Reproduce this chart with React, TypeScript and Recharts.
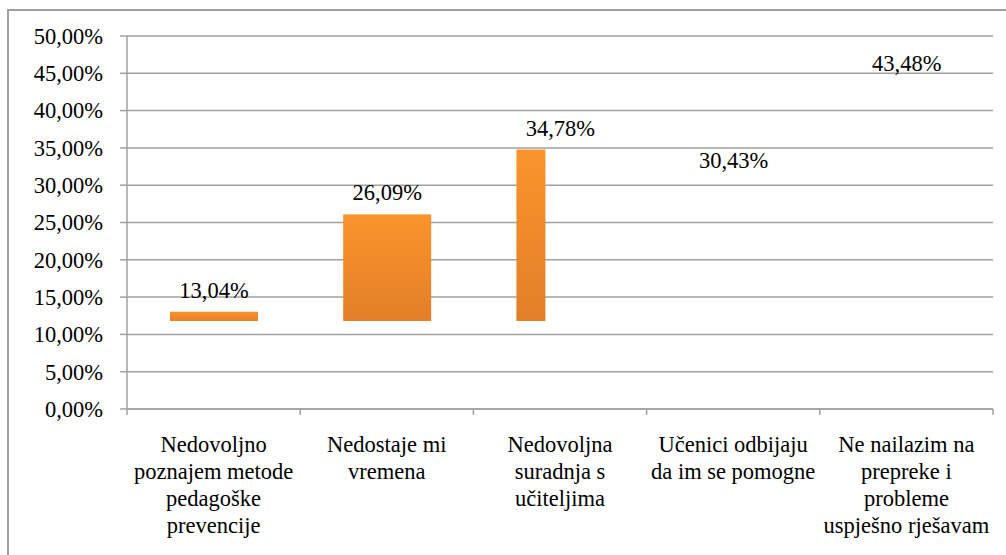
import React from 'react';
import { BarChart, Bar, XAxis, YAxis, CartesianGrid, LabelList } from 'recharts';

const categories = [
  'Nedovoljno poznajem metode pedagoške prevencije',
  'Nedostaje mi vremena',
  'Nedovoljna suradnja s učiteljima',
  'Učenici odbijaju da im se pomogne',
  'Ne nailazim na prepreke i probleme uspješno rješavam',
];
const values = [0.1304, 0.2609, 0.3478, 0.3043, 0.4348];
const barBase = 0.118;
const renderedWidthShare = [1, 1, 0.33, 0, 0];
const yTicks = [0, 0.05, 0.1, 0.15, 0.2, 0.25, 0.3, 0.35, 0.4, 0.45, 0.5];

const data = categories.map((name, i) => ({
  name,
  value: values[i],
  range: [barBase, values[i]],
  share: renderedWidthShare[i],
}));

const W = 1006;
const H = 555;
const MARGIN = { top: 36, right: 13, left: 0, bottom: 0 };
const Y_AXIS_W = 127;
const X_AXIS_H = 146;
const PLOT_W = W - MARGIN.left - MARGIN.right - Y_AXIS_W;
const BAND = PLOT_W / categories.length;
const FONT = '"Liberation Serif", "DejaVu Serif", serif';
const FS = 22.5;
const GRID = '#a0a0a0';

const fmt = (v: number) => (v * 100).toFixed(2).replace('.', ',') + '%';

let ctx: CanvasRenderingContext2D | null = null;
const measure = (s: string) => {
  if (!ctx && typeof document !== 'undefined') {
    ctx = document.createElement('canvas').getContext('2d');
  }
  if (!ctx) return s.length * FS * 0.45;
  ctx.font = `${FS}px ${FONT}`;
  return ctx.measureText(s).width;
};

const wrap = (s: string, maxW: number) => {
  const words = s.split(' ');
  const lines: string[] = [];
  let cur = '';
  words.forEach((w) => {
    const test = cur ? cur + ' ' + w : w;
    if (cur && measure(test) > maxW) {
      lines.push(cur);
      cur = w;
    } else {
      cur = test;
    }
  });
  if (cur) lines.push(cur);
  return lines;
};

const BarShape = (props: any) => {
  const { x, y, width, height, payload } = props;
  const share = payload?.share ?? 1;
  if (!share || width <= 0 || height <= 0) return <g />;
  return <rect x={x} y={y} width={width * share} height={height} fill="url(#barGrad)" />;
};

const XTick = (props: any) => {
  const { x, y, payload, index } = props;
  const left = x - BAND / 2;
  const right = x + BAND / 2;
  const lines = wrap(String(payload.value), BAND - 6);
  return (
    <g>
      <line x1={left} x2={left} y1={y} y2={y + 6} stroke={GRID} strokeWidth={1.5} />
      {index === categories.length - 1 && (
        <line x1={right} x2={right} y1={y} y2={y + 6} stroke={GRID} strokeWidth={1.5} />
      )}
      <text x={x} y={y + 43} textAnchor="middle" fill="#000" style={{ fontFamily: FONT, fontSize: FS }}>
        {lines.map((l, i) => (
          <tspan key={i} x={x} dy={i === 0 ? 0 : 27}>
            {l}
          </tspan>
        ))}
      </text>
    </g>
  );
};

const ValueLabel = (props: any) => {
  const { x, y, width, value } = props;
  return (
    <text x={x + width / 2} y={y - 14} textAnchor="middle" fill="#000" style={{ fontFamily: FONT, fontSize: FS }}>
      {fmt(value)}
    </text>
  );
};

const YTick = (props: any) => {
  const { x, y, payload } = props;
  return (
    <text x={x} y={y} dy="0.35em" textAnchor="end" fill="#000" style={{ fontFamily: FONT, fontSize: FS }}>
      {fmt(payload.value)}
    </text>
  );
};

export default function App() {
  return (
    <div style={{ position: 'absolute', left: 0, top: 0, width: W, height: H, background: '#fff', overflow: 'hidden' }}>
      <div
        style={{
          position: 'absolute',
          left: 7,
          top: 9,
          width: W,
          height: H,
          borderTop: `2px solid ${GRID}`,
          borderLeft: `2px solid ${GRID}`,
        }}
      />
      <div style={{ position: 'absolute', left: 0, top: 0 }}>
        <BarChart width={W} height={H} data={data} margin={MARGIN} barSize={88}>
          <defs>
            <linearGradient id="barGrad" x1="0" y1="0" x2="0" y2="1">
              <stop offset="0%" stopColor="#FA942C" />
              <stop offset="100%" stopColor="#E27F29" />
            </linearGradient>
          </defs>
          <CartesianGrid vertical={false} stroke={GRID} strokeWidth={1.5} />
          <XAxis
            dataKey="name"
            height={X_AXIS_H}
            interval={0}
            tickLine={false}
            tickSize={0}
            tickMargin={0}
            axisLine={{ stroke: GRID, strokeWidth: 1.5 }}
            tick={<XTick />}
          />
          <YAxis
            width={Y_AXIS_W}
            domain={[0, 0.5]}
            ticks={yTicks}
            tickSize={7}
            tickMargin={17}
            axisLine={{ stroke: GRID, strokeWidth: 1.5 }}
            tickLine={{ stroke: GRID, strokeWidth: 1.5 }}
            tick={<YTick />}
            interval={0}
          />
          <Bar dataKey="range" shape={<BarShape />} isAnimationActive={false}>
            <LabelList dataKey="value" content={<ValueLabel />} />
          </Bar>
        </BarChart>
      </div>
    </div>
  );
}
